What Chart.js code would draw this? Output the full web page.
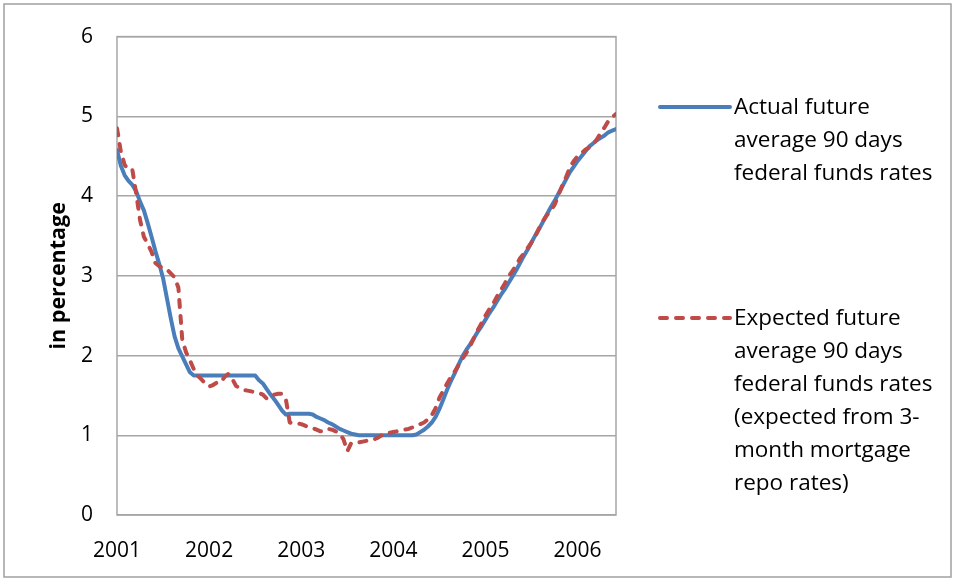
<!DOCTYPE html>
<html>
<head>
<meta charset="utf-8">
<script src="https://cdn.jsdelivr.net/npm/chart.js@4/dist/chart.umd.min.js"></script>
<style>
  html, body { margin: 0; padding: 0; background: #fff; }
  canvas { display: block; }
</style>
</head>
<body>
<canvas id="c" width="955" height="580"></canvas>
<script>
// Semi-monthly observations starting January 2001
const startYear = 2001;
const obsPerYear = 24;

// Actual future average 90-day federal funds rate (%)
const actual = [
  4.58, 4.38, 4.26, 4.19, 4.14, 4.06, 3.93, 3.82, 3.66, 3.49,
  3.31, 3.15, 2.97, 2.72, 2.47, 2.24, 2.09, 1.99, 1.89, 1.79,
  1.75, 1.75, 1.75, 1.75, 1.75, 1.75, 1.75, 1.75, 1.75, 1.75,
  1.75, 1.75, 1.75, 1.75, 1.75, 1.75, 1.75, 1.69, 1.65, 1.58,
  1.51, 1.45, 1.38, 1.31, 1.26, 1.27, 1.27, 1.27, 1.27, 1.27,
  1.27, 1.26, 1.23, 1.21, 1.19, 1.16, 1.14, 1.11, 1.08, 1.06,
  1.04, 1.02, 1.01, 1.00, 1.00, 1.00, 1.00, 1.00, 1.00, 1.00,
  1.00, 1.00, 1.00, 1.00, 1.00, 1.00, 1.00, 1.00, 1.01, 1.04,
  1.07, 1.11, 1.16, 1.23, 1.33, 1.45, 1.57, 1.68, 1.78, 1.89,
  1.99, 2.07, 2.14, 2.22, 2.30, 2.37, 2.45, 2.53, 2.60, 2.68,
  2.76, 2.83, 2.91, 2.99, 3.07, 3.16, 3.25, 3.33, 3.42, 3.51,
  3.59, 3.68, 3.77, 3.86, 3.94, 4.03, 4.12, 4.21, 4.30, 4.37,
  4.44, 4.50, 4.56, 4.62, 4.66, 4.70, 4.73, 4.76, 4.80, 4.82,
  4.84
];

// Expected future average 90-day federal funds rate from 3-month mortgage repo rates (%)
const expected = [
  4.85, 4.56, 4.39, 4.33, 4.33, 4.03, 3.70, 3.49, 3.40, 3.30,
  3.16, 3.12, 3.10, 3.08, 3.03, 2.98, 2.85, 2.20, 2.04, 1.94,
  1.83, 1.75, 1.70, 1.65, 1.61, 1.63, 1.66, 1.66, 1.73, 1.77,
  1.71, 1.62, 1.59, 1.57, 1.56, 1.55, 1.54, 1.53, 1.51, 1.46,
  1.49, 1.51, 1.52, 1.52, 1.45, 1.16, 1.15, 1.15, 1.14, 1.12,
  1.10, 1.09, 1.07, 1.05, 1.05, 1.08, 1.07, 1.05, 1.02, 0.95,
  0.80, 0.90, 0.90, 0.91, 0.92, 0.93, 0.94, 0.95, 0.97, 1.00,
  1.02, 1.03, 1.04, 1.05, 1.06, 1.07, 1.08, 1.10, 1.12, 1.14,
  1.16, 1.20, 1.25, 1.34, 1.47, 1.56, 1.65, 1.73, 1.80, 1.88,
  1.96, 2.03, 2.12, 2.22, 2.32, 2.41, 2.50, 2.58, 2.65, 2.74,
  2.82, 2.90, 2.99, 3.06, 3.13, 3.22, 3.28, 3.35, 3.42, 3.50,
  3.60, 3.69, 3.76, 3.82, 3.89, 4.01, 4.13, 4.24, 4.36, 4.44,
  4.50, 4.54, 4.58, 4.61, 4.65, 4.71, 4.79, 4.86, 4.94, 4.99,
  5.03
];

const yearTicks = [2001, 2002, 2003, 2004, 2005, 2006];
const yTickValues = [0, 1, 2, 3, 4, 5, 6];
const yTitle = 'in percentage';

const actualLegend = ['Actual future', 'average 90 days', 'federal funds rates'];
const expectedLegend = ['Expected future', 'average 90 days', 'federal funds rates',
  '(expected from 3-', 'month mortgage', 'repo rates)'];

const BLUE = '#4a7ebb';
const RED = '#be4b48';
const GRID = '#a6a6a6';
const FONT = '"Open Sans", Lato, sans-serif';

const toPoints = arr => arr.map((v, i) => ({ x: startYear + i / obsPerYear, y: v }));
const lastX = startYear + (actual.length - 1) / obsPerYear;

// Plot frame and outer border
const framePlugin = {
  id: 'frame',
  beforeDatasetsDraw(chart) {
    const { ctx, chartArea: a } = chart;
    ctx.save();
    ctx.strokeStyle = GRID;
    ctx.lineWidth = 1.5;
    ctx.strokeRect(a.left, a.top, a.right - a.left, a.bottom - a.top);
    ctx.restore();
  },
  afterDraw(chart) {
    const { ctx } = chart;
    ctx.save();
    ctx.strokeStyle = '#a0a0a0';
    ctx.lineWidth = 1.5;
    ctx.strokeRect(4, 4, chart.width - 8, chart.height - 7);
    ctx.restore();
  }
};

// Legend with wrapped entries at the right side
const sideLegend = {
  id: 'sideLegend',
  afterDraw(chart) {
    const { ctx } = chart;
    const entries = [
      { ds: chart.data.datasets[0], lines: actualLegend, y: 107 },
      { ds: chart.data.datasets[1], lines: expectedLegend, y: 318 }
    ];
    ctx.save();
    entries.forEach(e => {
      ctx.strokeStyle = e.ds.borderColor;
      ctx.lineWidth = e.ds.borderWidth;
      ctx.lineCap = e.ds.borderCapStyle || 'butt';
      ctx.setLineDash(e.ds.borderDash || []);
      ctx.beginPath();
      ctx.moveTo(660, e.y);
      ctx.lineTo(730, e.y);
      ctx.stroke();
      ctx.setLineDash([]);
      ctx.fillStyle = '#000';
      ctx.font = '22.5px ' + FONT;
      ctx.textBaseline = 'middle';
      ctx.textAlign = 'left';
      e.lines.forEach((t, i) => ctx.fillText(t, 734, e.y + 1 + i * 33));
    });
    ctx.restore();
  }
};

new Chart(document.getElementById('c'), {
  type: 'line',
  data: {
    datasets: [
      {
        label: actualLegend.join(' '),
        data: toPoints(actual),
        borderColor: BLUE,
        borderWidth: 4,
        borderCapStyle: 'round',
        borderJoinStyle: 'round',
        pointRadius: 0,
        tension: 0,
        order: 2
      },
      {
        label: expectedLegend.join(' '),
        data: toPoints(expected),
        borderColor: RED,
        borderWidth: 4,
        borderDash: [7, 9],
        borderCapStyle: 'round',
        borderJoinStyle: 'round',
        pointRadius: 0,
        tension: 0,
        order: 1
      }
    ]
  },
  options: {
    responsive: false,
    animation: false,
    devicePixelRatio: 1,
    layout: { padding: { left: 0, top: 35, right: 339, bottom: 0 } },
    plugins: {
      legend: { display: false },
      tooltip: { enabled: false }
    },
    scales: {
      x: {
        type: 'linear',
        min: startYear,
        max: lastX,
        afterBuildTicks: s => { s.ticks = yearTicks.map(v => ({ value: v })); },
        afterFit: s => { s.height = 65; },
        grid: { display: false, drawTicks: false },
        border: { display: false },
        ticks: {
          padding: 23,
          color: '#000',
          font: { family: FONT, size: 21 },
          maxRotation: 0,
          autoSkip: false,
          callback: v => String(v)
        }
      },
      y: {
        min: 0,
        max: 6,
        afterBuildTicks: s => { s.ticks = yTickValues.map(v => ({ value: v })); },
        afterFit: s => { s.width = 117; },
        grid: { color: GRID, lineWidth: 1.5, drawTicks: false },
        border: { display: false },
        ticks: {
          padding: 24,
          color: '#000',
          font: { family: FONT, size: 21 }
        },
        title: {
          display: true,
          text: yTitle,
          color: '#000',
          font: { family: FONT, size: 21.5, weight: 'bold' },
          padding: { top: 46, bottom: 0 }
        }
      }
    }
  },
  plugins: [framePlugin, sideLegend]
});
</script>
</body>
</html>
